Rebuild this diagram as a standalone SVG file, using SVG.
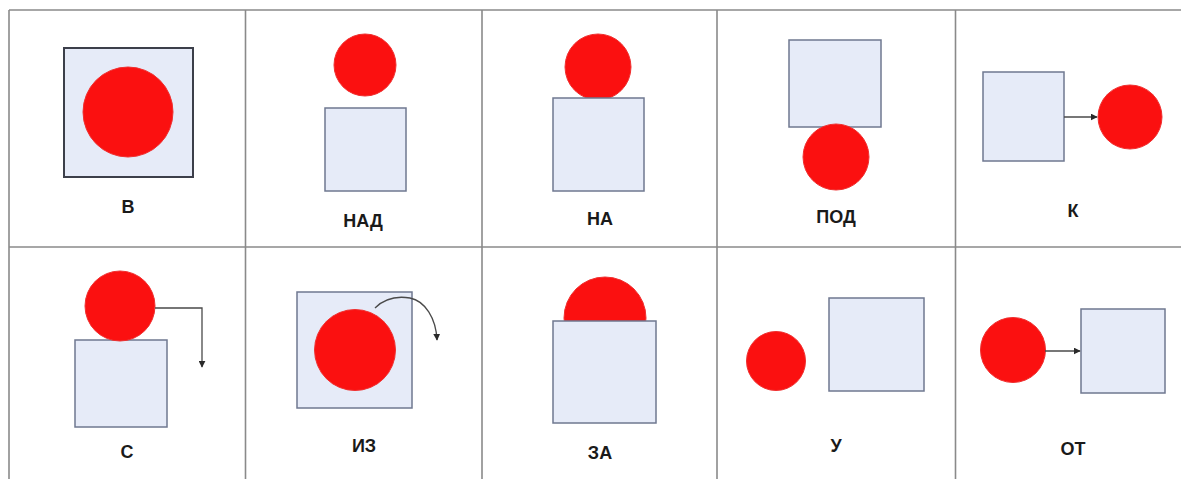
<svg xmlns="http://www.w3.org/2000/svg" width="1181" height="479" viewBox="0 0 1181 479">
<style>
.grid{stroke:#8a8a8a;stroke-width:1.6;fill:none}
.sq{fill:#e6ebf8;stroke:#6f7890;stroke-width:1.5}
.sqd{fill:#e6ebf8;stroke:#3c3f4a;stroke-width:2}
.ball{fill:#fb1010;stroke:#f03030;stroke-width:1}
.lbl{font-family:"Liberation Sans",Arial,sans-serif;font-weight:bold;font-size:18px;fill:#1a1a1a;text-anchor:middle}
.con{stroke:#4a4a4a;stroke-width:1.3;fill:none}
</style>
<defs>
<marker id="ah" viewBox="0 0 10 10" refX="9" refY="5" markerWidth="7" markerHeight="7" markerUnits="userSpaceOnUse" orient="auto">
<path d="M0,0 L10,5 L0,10 z" fill="#2a2a2a"/>
</marker>
</defs>
<rect width="1181" height="479" fill="#ffffff"/>
<g id="table">
<line class="grid" x1="9" y1="10" x2="1181" y2="10"/>
<line class="grid" x1="9" y1="247" x2="1181" y2="247"/>
<line class="grid" x1="9" y1="10" x2="9" y2="479"/>
<line class="grid" x1="245.5" y1="10" x2="245.5" y2="479"/>
<line class="grid" x1="482" y1="10" x2="482" y2="479"/>
<line class="grid" x1="717" y1="10" x2="717" y2="479"/>
<line class="grid" x1="955.5" y1="10" x2="955.5" y2="479"/>
</g>
<g id="cell-v">
<rect class="sqd" x="64" y="48" width="129" height="129"/>
<circle class="ball" cx="128" cy="112" r="45"/>
<text class="lbl" x="128" y="213">В</text>
</g>
<g id="cell-nad">
<circle class="ball" cx="365" cy="65" r="31"/>
<rect class="sq" x="325" y="108" width="81" height="83"/>
<text class="lbl" x="363" y="227">НАД</text>
</g>
<g id="cell-na">
<circle class="ball" cx="598" cy="67" r="33"/>
<rect class="sq" x="553" y="98" width="91" height="93"/>
<text class="lbl" x="600" y="225">НА</text>
</g>
<g id="cell-pod">
<rect class="sq" x="789" y="40" width="92" height="87"/>
<circle class="ball" cx="836" cy="157" r="33"/>
<text class="lbl" x="836" y="223">ПОД</text>
</g>
<g id="cell-k">
<rect class="sq" x="983" y="72" width="81" height="89"/>
<circle class="ball" cx="1130" cy="117" r="32"/>
<text class="lbl" x="1073" y="217">К</text>
</g>
<g id="cell-s">
<rect class="sq" x="75" y="340" width="92" height="87"/>
<circle class="ball" cx="120" cy="306" r="35"/>
<text class="lbl" x="127" y="458">С</text>
</g>
<g id="cell-iz">
<rect class="sq" x="297" y="292" width="115" height="116"/>
<circle class="ball" cx="355" cy="350" r="40.5"/>
<text class="lbl" x="364" y="452">ИЗ</text>
</g>
<g id="cell-za">
<circle class="ball" cx="605" cy="318" r="41"/>
<rect class="sq" x="553" y="321" width="103" height="102"/>
<text class="lbl" x="600" y="459">ЗА</text>
</g>
<g id="cell-u">
<circle class="ball" cx="776" cy="361" r="29.5"/>
<rect class="sq" x="829" y="298" width="95" height="93"/>
<text class="lbl" x="836" y="452">У</text>
</g>
<g id="cell-ot">
<circle class="ball" cx="1013" cy="350" r="32.5"/>
<rect class="sq" x="1081" y="309" width="84" height="84"/>
<text class="lbl" x="1073" y="455">ОТ</text>
</g>
<g id="connectors">
<line class="con" x1="1064" y1="117" x2="1097" y2="117" marker-end="url(#ah)"/>
<path class="con" d="M155,308 H202 V367" marker-end="url(#ah)"/>
<path class="con" d="M375,308 C385,298 398,296 410,298 C425,301 436,318 437,340" marker-end="url(#ah)"/>
<line class="con" x1="1045" y1="351" x2="1080" y2="351" marker-end="url(#ah)"/>
</g>
</svg>
